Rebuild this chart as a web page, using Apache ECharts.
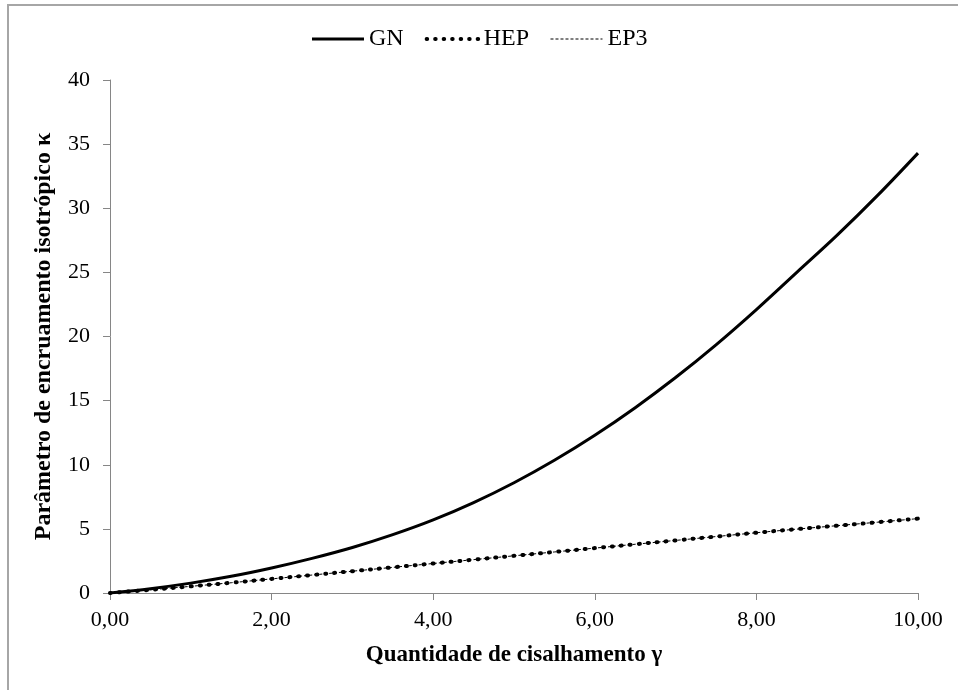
<!DOCTYPE html>
<html>
<head>
<meta charset="utf-8">
<script src="https://cdn.jsdelivr.net/npm/echarts@6/dist/echarts.min.js"></script>
<style>
  html, body { margin: 0; padding: 0; background: #fff; }
  #chart { width: 958px; height: 690px; }
</style>
</head>
<body>
<div id="chart"></div>
<script>
// Shear amount γ (x) and isotropic hardening parameter κ for three models
const gamma = [0, 0.5, 1, 1.5, 2, 2.5, 3, 3.5, 4, 4.5, 5, 5.5, 6, 6.5, 7, 7.5, 8, 8.5, 9, 9.5, 10];
const kappaGN = [0, 0.34, 0.77, 1.3, 1.95, 2.7, 3.55, 4.55, 5.7, 7.05, 8.6, 10.35, 12.3, 14.45, 16.8, 19.35, 22.1, 25.0, 27.9, 31.0, 34.3];
const kappaHEP = [0, 0.25, 0.52, 0.8, 1.1, 1.4, 1.7, 2.0, 2.3, 2.6, 2.9, 3.2, 3.5, 3.8, 4.1, 4.4, 4.7, 4.98, 5.25, 5.52, 5.8];
const kappaEP3 = [0, 0.25, 0.52, 0.8, 1.1, 1.4, 1.7, 2.0, 2.3, 2.6, 2.9, 3.2, 3.5, 3.8, 4.1, 4.4, 4.7, 4.98, 5.25, 5.52, 5.8];
const seriesNames = ['GN', 'HEP', 'EP3'];
const xTitle = 'Quantidade de cisalhamento γ';
const yTitle = 'Parâmetro de encruamento isotrópico κ';

const pairs = (ys) => gamma.map((g, i) => [g, ys[i]]);
const serif = '"Liberation Serif", "DejaVu Serif", serif';

const styles = {
  GN: { color: '#000', width: 3 },
  HEP: { color: '#000', width: 4, type: [1, 8], cap: 'round' },
  EP3: { color: '#000', width: 1, type: [3, 2] }
};
const legendStyles = {
  GN: { color: '#000', width: 3 },
  HEP: { color: '#000', width: 4, type: [0.5, 8], cap: 'round' },
  EP3: { color: '#000', width: 1, type: [3, 2] }
};

const chart = echarts.init(document.getElementById('chart'), null, { renderer: 'canvas' });
chart.setOption({
  animation: false,
  backgroundColor: '#fff',
  graphic: [{
    type: 'rect',
    shape: { x: 8, y: 5, width: 960, height: 700 },
    style: { fill: 'none', stroke: '#a6a6a6', lineWidth: 2 },
    silent: true
  }],
  legend: {
    top: 22,
    left: 'center',
    itemWidth: 52,
    itemHeight: 16,
    itemGap: 21,
    itemStyle: { opacity: 0 },
    textStyle: { fontFamily: serif, fontSize: 24, color: '#000' },
    data: seriesNames.map((n) => ({ name: n, lineStyle: legendStyles[n] }))
  },
  grid: { left: 110, right: 40, top: 80, bottom: 97, containLabel: false },
  xAxis: {
    type: 'value', min: 0, max: 10, interval: 2,
    name: xTitle, nameLocation: 'middle', nameGap: 51,
    nameTextStyle: { fontFamily: serif, fontSize: 23, fontWeight: 'bold', color: '#000' },
    axisLine: { lineStyle: { color: '#868686', width: 1 } },
    axisTick: { show: true, inside: false, length: 7, lineStyle: { color: '#868686' } },
    axisLabel: {
      fontFamily: serif, fontSize: 22, color: '#000', margin: 16,
      formatter: (v) => v.toFixed(2).replace('.', ',')
    },
    splitLine: { show: false }
  },
  yAxis: {
    type: 'value', min: 0, max: 40, interval: 5,
    name: yTitle, nameLocation: 'middle', nameGap: 54, nameRotate: 90,
    nameTextStyle: { fontFamily: serif, fontSize: 24, fontWeight: 'bold', color: '#000' },
    axisLine: { show: true, lineStyle: { color: '#868686', width: 1 } },
    axisTick: { show: true, inside: false, length: 7, lineStyle: { color: '#868686' } },
    axisLabel: { fontFamily: serif, fontSize: 22, color: '#000', margin: 20 },
    splitLine: { show: false }
  },
  series: [
    {
      name: 'GN', type: 'line', data: pairs(kappaGN), smooth: 0.35,
      symbol: 'none', color: '#000', lineStyle: styles.GN
    },
    {
      name: 'HEP', type: 'line', data: pairs(kappaHEP), smooth: 0.35,
      symbol: 'none', color: '#000', lineStyle: styles.HEP
    },
    {
      name: 'EP3', type: 'line', data: pairs(kappaEP3), smooth: 0.35,
      symbol: 'none', color: '#000', lineStyle: styles.EP3
    }
  ]
});
</script>
</body>
</html>
